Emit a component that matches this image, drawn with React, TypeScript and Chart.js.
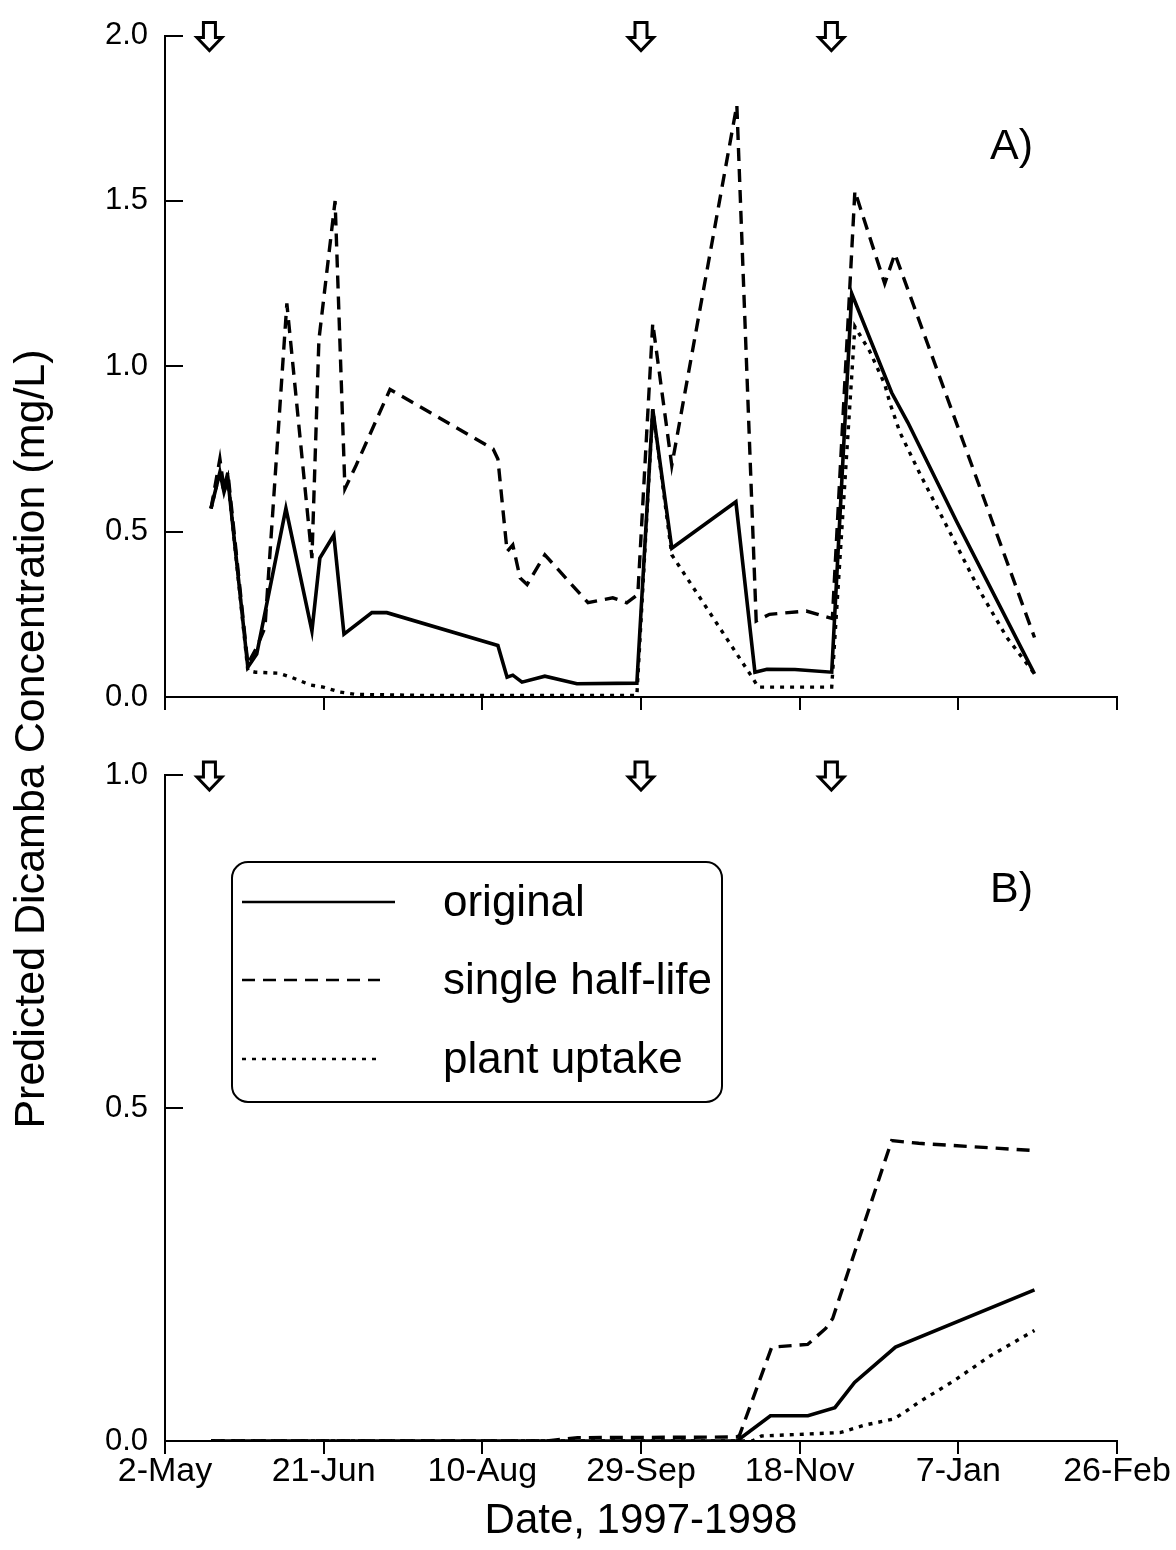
import React, { useEffect, useRef } from 'react';
import { Chart, registerables } from 'chart.js';

Chart.register(...registerables);

// ---------- data (x = days since 2-May-1997) ----------
const dateTickLabels = ['2-May', '21-Jun', '10-Aug', '29-Sep', '18-Nov', '7-Jan', '26-Feb'];
const tickStepDays = 50;
const applicationDays = [14, 150, 210];
const seriesNames = ['original', 'single half-life', 'plant uptake'];
const panelLabels = ['A)', 'B)'];
const xAxisTitle = 'Date, 1997-1998';
const yAxisTitle = 'Predicted Dicamba Concentration (mg/L)';

// Panel A
const daysOriginalA = [14.5, 17.3, 18.6, 19.8, 26.1, 28.9, 38.1, 46.3, 48.8, 53.2, 56.4, 65.2, 69.9, 104.9, 107.8, 109.6, 112.5, 119.7, 129.8, 148.7, 153.7, 159.7, 179.9, 185.9, 189.7, 198.5, 210.1, 216.4, 229.0, 234.1, 249.5, 274];
const concOriginalA = [0.57, 0.68, 0.62, 0.66, 0.09, 0.13, 0.57, 0.20, 0.42, 0.49, 0.19, 0.255, 0.255, 0.156, 0.06, 0.066, 0.045, 0.063, 0.04, 0.042, 0.87, 0.45, 0.59, 0.075, 0.084, 0.083, 0.075, 1.22, 0.92, 0.83, 0.53, 0.07];

const daysHalfLifeA = [14.5, 17.3, 18.6, 19.8, 26.1, 28.9, 31.5, 38.4, 46.3, 48.5, 53.6, 56.7, 60.2, 70.9, 103.4, 104.9, 107.8, 109.6, 111.9, 114.1, 119.7, 133.3, 141.1, 145.5, 149.0, 153.7, 159.7, 180.2, 186.3, 190.5, 202.1, 210.3, 217.4, 226.8, 230.0, 274];
const concHalfLifeA = [0.57, 0.72, 0.63, 0.68, 0.10, 0.15, 0.21, 1.19, 0.42, 1.08, 1.50, 0.63, 0.70, 0.93, 0.75, 0.72, 0.44, 0.46, 0.36, 0.34, 0.43, 0.285, 0.30, 0.285, 0.31, 1.13, 0.70, 1.79, 0.23, 0.25, 0.26, 0.237, 1.53, 1.25, 1.34, 0.18];

const daysUptakeA = [14.5, 17.3, 18.6, 19.8, 26.1, 28.5, 35.9, 39.7, 45.9, 49.9, 55.1, 60.0, 80.0, 148.7, 153.7, 159.7, 185.0, 186.9, 210.1, 217.4, 222.1, 226.8, 228.4, 231.6, 237.9, 248.3, 256.8, 265.3, 274];
const concUptakeA = [0.57, 0.68, 0.62, 0.66, 0.08, 0.075, 0.072, 0.06, 0.036, 0.03, 0.015, 0.008, 0.005, 0.005, 0.87, 0.43, 0.06, 0.03, 0.03, 1.12, 1.045, 0.946, 0.89, 0.80, 0.675, 0.48, 0.32, 0.18, 0.07];

// Panel B
const daysOriginalB = [14.5, 180.2, 190.8, 202.6, 211.1, 217.3, 230.2, 274];
const concOriginalB = [0, 0, 0.038, 0.038, 0.050, 0.088, 0.141, 0.227];

const daysHalfLifeB = [14.5, 120, 130, 180.0, 181.0, 191.2, 202.5, 208.2, 210.4, 229.0, 237.5, 274];
const concHalfLifeB = [0, 0, 0.005, 0.006, 0.008, 0.141, 0.145, 0.169, 0.184, 0.451, 0.447, 0.436];

const daysUptakeB = [14.5, 185, 188, 212.7, 220.6, 229.6, 233.0, 237.5, 248.8, 260.1, 274];
const concUptakeB = [0, 0, 0.0075, 0.0126, 0.024, 0.033, 0.043, 0.058, 0.091, 0.128, 0.166];

// ---------- styling ----------
const FONT = "'Liberation Sans', Arial, Helvetica, sans-serif";
const W = 1176;
const H_A = 760;
const H_B = 1550;
const lineStyles = [
  { borderDash: [] as number[], borderWidth: 3.6 },
  { borderDash: [13, 8], borderWidth: 3.4 },
  { borderDash: [4, 6], borderWidth: 3.4 },
];

function toPoints(days: number[], conc: number[]) {
  return days.map((d, i) => ({ x: d, y: conc[i] }));
}

function makeDatasets(sets: [number[], number[]][]) {
  return sets.map(([d, c], i) => ({
    label: seriesNames[i],
    data: toPoints(d, c),
    borderColor: '#000',
    backgroundColor: '#000',
    borderWidth: lineStyles[i].borderWidth,
    borderDash: lineStyles[i].borderDash,
    borderCapStyle: 'butt' as const,
    borderJoinStyle: 'miter' as const,
    pointRadius: 0,
    tension: 0,
    fill: false,
  }));
}

function drawArrow(ctx: CanvasRenderingContext2D, cx: number, top: number) {
  ctx.save();
  ctx.beginPath();
  ctx.moveTo(cx - 6, top);
  ctx.lineTo(cx + 6, top);
  ctx.lineTo(cx + 6, top + 15);
  ctx.lineTo(cx + 12.5, top + 15);
  ctx.lineTo(cx, top + 28);
  ctx.lineTo(cx - 12.5, top + 15);
  ctx.lineTo(cx - 6, top + 15);
  ctx.closePath();
  ctx.fillStyle = '#fff';
  ctx.fill();
  ctx.lineWidth = 3;
  ctx.strokeStyle = '#000';
  ctx.lineJoin = 'miter';
  ctx.stroke();
  ctx.restore();
}

const decorPlugin = {
  id: 'decor',
  afterDraw(chart: any, _args: any, opts: any) {
    const ctx: CanvasRenderingContext2D = chart.ctx;
    const ca = chart.chartArea;
    const xs = chart.scales.x;
    const ys = chart.scales.y;
    ctx.save();
    // inward y ticks
    ctx.strokeStyle = '#000';
    ctx.lineWidth = 2;
    ctx.beginPath();
    ys.ticks.forEach((t: any) => {
      const y = Math.round(ys.getPixelForValue(t.value));
      ctx.moveTo(ca.left, y);
      ctx.lineTo(ca.left + 18, y);
    });
    ctx.stroke();

    // application arrows
    applicationDays.forEach((d) => drawArrow(ctx, xs.getPixelForValue(d), ca.top - 13));

    // panel label
    ctx.fillStyle = '#000';
    ctx.font = `43px ${FONT}`;
    ctx.textAlign = 'left';
    ctx.textBaseline = 'middle';
    ctx.fillText(opts.label, ca.right - 127, ca.top + opts.labelDy);

    if (opts.legend) {
      const bx = ca.left + 67;
      const by = ca.top + 87;
      const bw = 490;
      const bh = 240;
      const r = 16;
      ctx.beginPath();
      ctx.moveTo(bx + r, by);
      ctx.lineTo(bx + bw - r, by);
      ctx.arcTo(bx + bw, by, bx + bw, by + r, r);
      ctx.lineTo(bx + bw, by + bh - r);
      ctx.arcTo(bx + bw, by + bh, bx + bw - r, by + bh, r);
      ctx.lineTo(bx + r, by + bh);
      ctx.arcTo(bx, by + bh, bx, by + bh - r, r);
      ctx.lineTo(bx, by + r);
      ctx.arcTo(bx, by, bx + r, by, r);
      ctx.closePath();
      ctx.fillStyle = '#fff';
      ctx.fill();
      ctx.lineWidth = 2;
      ctx.strokeStyle = '#000';
      ctx.stroke();

      const rowY = [by + 40, by + 118, by + 197];
      const lineEnd = [bx + 163, bx + 148, bx + 148];
      seriesNames.forEach((name, i) => {
        ctx.save();
        ctx.beginPath();
        ctx.setLineDash(lineStyles[i].borderDash);
        ctx.lineWidth = 2.6;
        ctx.moveTo(bx + 10, rowY[i]);
        ctx.lineTo(lineEnd[i], rowY[i]);
        ctx.stroke();
        ctx.restore();
        ctx.fillStyle = '#000';
        ctx.font = `44px ${FONT}`;
        ctx.textAlign = 'left';
        ctx.textBaseline = 'middle';
        ctx.fillText(name, bx + 211, rowY[i] + 2);
      });
    }

    if (opts.yTitle) {
      ctx.save();
      ctx.translate(32, 739);
      ctx.rotate(-Math.PI / 2);
      ctx.fillStyle = '#000';
      ctx.font = `43px ${FONT}`;
      ctx.textAlign = 'center';
      ctx.textBaseline = 'middle';
      ctx.fillText(yAxisTitle, 0, 0);
      ctx.restore();
    }
    ctx.restore();
  },
};

function makeConfig(panel: 'A' | 'B'): any {
  const isA = panel === 'A';
  const datasets = isA
    ? makeDatasets([
        [daysOriginalA, concOriginalA],
        [daysHalfLifeA, concHalfLifeA],
        [daysUptakeA, concUptakeA],
      ])
    : makeDatasets([
        [daysOriginalB, concOriginalB],
        [daysHalfLifeB, concHalfLifeB],
        [daysUptakeB, concUptakeB],
      ]);
  const canvasH = isA ? H_A : H_B;
  const top = isA ? 31 : 775;
  const bottomAxis = isA ? 697 : 1441;
  return {
    type: 'line',
    data: { datasets },
    plugins: [decorPlugin],
    options: {
      responsive: false,
      animation: false,
      events: [],
      layout: { padding: { left: 0, right: W - 1117, top, bottom: 0 } },
      plugins: {
        legend: { display: false },
        tooltip: { enabled: false },
        decor: {
          label: isA ? panelLabels[0] : panelLabels[1],
          labelDy: isA ? 112 : 115,
          legend: !isA,
          yTitle: !isA,
        },
      },
      scales: {
        x: {
          type: 'linear',
          min: 0,
          max: tickStepDays * (dateTickLabels.length - 1),
          ticks: {
            stepSize: tickStepDays,
            display: !isA,
            autoSkip: false,
            maxRotation: 0,
            minRotation: 0,
            padding: -3,
            color: '#000',
            font: { family: FONT, size: 34 },
            callback: (v: number) => dateTickLabels[Math.round(v / tickStepDays)] ?? '',
          },
          grid: {
            drawOnChartArea: false,
            drawTicks: true,
            tickLength: 13,
            color: '#000',
            lineWidth: 2,
          },
          border: { display: true, color: '#000', width: 2 },
          title: {
            display: !isA,
            text: xAxisTitle,
            color: '#000',
            font: { family: FONT, size: 42 },
            padding: { top: 0, bottom: 3 },
          },
          afterFit: (s: any) => {
            s.height = canvasH - bottomAxis;
          },
        },
        y: {
          type: 'linear',
          min: 0,
          max: isA ? 2 : 1,
          ticks: {
            stepSize: 0.5,
            padding: 17,
            color: '#000',
            font: { family: FONT, size: 31 },
            callback: (v: number) => Number(v).toFixed(1),
          },
          grid: { drawOnChartArea: false, drawTicks: false },
          border: { display: true, color: '#000', width: 2 },
          afterFit: (s: any) => {
            s.width = 165;
          },
        },
      },
    },
  };
}

export default function App() {
  const refA = useRef<HTMLCanvasElement>(null);
  const refB = useRef<HTMLCanvasElement>(null);

  useEffect(() => {
    const chartB = new Chart(refB.current as HTMLCanvasElement, makeConfig('B'));
    const chartA = new Chart(refA.current as HTMLCanvasElement, makeConfig('A'));
    return () => {
      chartA.destroy();
      chartB.destroy();
    };
  }, []);

  return (
    <div style={{ position: 'absolute', left: 0, top: 0, width: W, height: H_B, background: '#fff' }}>
      <canvas ref={refB} width={W} height={H_B} style={{ position: 'absolute', left: 0, top: 0, width: W, height: H_B }} />
      <canvas ref={refA} width={W} height={H_A} style={{ position: 'absolute', left: 0, top: 0, width: W, height: H_A }} />
    </div>
  );
}
